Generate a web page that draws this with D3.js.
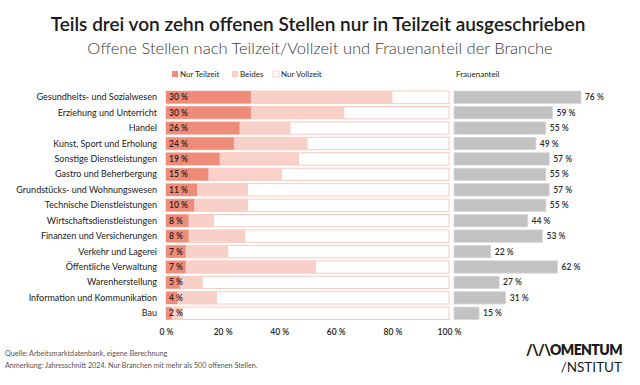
<!DOCTYPE html>
<html><head><meta charset="utf-8">
<script src="https://cdn.jsdelivr.net/npm/d3@7"></script>
<style>body{margin:0;background:#fff;} svg{display:block;font-family:Lato, "DejaVu Sans", sans-serif;}</style>
</head><body><svg id="c" width="640" height="385"></svg>
<script>
const categories = ["Gesundheits- und Sozialwesen","Erziehung und Unterricht","Handel","Kunst, Sport und Erholung","Sonstige Dienstleistungen","Gastro und Beherbergung","Grundstücks- und Wohnungswesen","Technische Dienstleistungen","Wirtschaftsdienstleistungen","Finanzen und Versicherungen","Verkehr und Lagerei","Öffentliche Verwaltung","Warenherstellung","Information und Kommunikation","Bau"];
const nurTeilzeit = [30,30,26,24,19,15,11,10,8,8,7,7,5,4,2];
const beides = [50,33,18,26,28,26,18,19,9,20,15,46,8,14,4];
const frauenanteil = [76,59,55,49,57,55,57,55,44,53,22,62,27,31,15];
const ticks = [0,20,40,60,80,100];
const seriesNames = ["Nur Teilzeit","Beides","Nur Vollzeit"];

const svg = d3.select("#c");
const cDark = "#ee8c79", cLight = "#f9d0c8", cBorder = "#f8c9c0", cGray = "#c2c2c2";

svg.append("text").attr("x",318).attr("y",31).attr("text-anchor","middle")
  .attr("font-size",19).attr("font-weight",600).attr("fill","#1a1a1a")
  .text("Teils drei von zehn offenen Stellen nur in Teilzeit ausgeschrieben");
svg.append("text").attr("x",320).attr("y",54).attr("text-anchor","middle")
  .attr("font-size",16.5).attr("font-weight",300).attr("fill","#3a3a3a")
  .text("Offene Stellen nach Teilzeit/Vollzeit und Frauenanteil der Branche");

const x = d3.scaleLinear().domain([0,100]).range([166,449]);
const y = d3.scaleBand().domain(categories).range([89.5,321]).paddingInner(0.2).paddingOuter(0.1);
const xr = d3.scaleLinear().domain([0,100]).range([454,621]);

// legend
const legX = [172,232,273];
const legFill = [cDark,cLight,"#fff"];
seriesNames.forEach((n,i)=>{
  svg.append("rect").attr("x",legX[i]).attr("y",71).attr("width",6).attr("height",6)
    .attr("fill",legFill[i]).attr("stroke",i==2?cBorder:"none").attr("stroke-width",0.8);
  svg.append("text").attr("x",legX[i]+8).attr("y",77).attr("font-size",8).attr("fill","#222").text(n);
});
svg.append("text").attr("x",456).attr("y",77).attr("font-size",8).attr("fill","#222").text("Frauenanteil");

const rows = svg.append("g").selectAll("g").data(categories).join("g")
  .attr("transform",d=>`translate(0,${y(d)})`);
const bh = y.bandwidth();
rows.append("rect").attr("x",x(0)).attr("width",x(100)-x(0)).attr("height",bh)
  .attr("fill","#fff").attr("stroke",cBorder).attr("stroke-width",1);
rows.append("rect").attr("x",(d,i)=>x(nurTeilzeit[i])).attr("width",(d,i)=>x(nurTeilzeit[i]+beides[i])-x(nurTeilzeit[i]))
  .attr("height",bh).attr("fill",cLight);
rows.append("rect").attr("x",x(0)).attr("width",(d,i)=>x(nurTeilzeit[i])-x(0))
  .attr("height",bh).attr("fill",cDark);
rows.append("text").attr("x",x(0)+3).attr("y",bh/2+3).attr("font-size",8.5).attr("font-weight",600)
  .attr("fill","#2a1a18").text((d,i)=>nurTeilzeit[i]+" %");
rows.append("text").attr("x",157).attr("y",bh/2+3).attr("text-anchor","end").attr("font-size",9)
  .attr("fill","#222").text(d=>d);
// right
rows.append("rect").attr("x",xr(0)).attr("width",(d,i)=>xr(frauenanteil[i])-xr(0)).attr("height",bh)
  .attr("fill",cGray).attr("stroke","#d6d6d6").attr("stroke-width",0.8);
rows.append("text").attr("x",(d,i)=>xr(frauenanteil[i])+4).attr("y",bh/2+3).attr("font-size",8.5)
  .attr("font-weight",600).attr("fill","#2a2a2a").text((d,i)=>frauenanteil[i]+" %");

// axis
const ax = svg.append("g").attr("transform","translate(0,326)")
  .call(d3.axisBottom(x).tickValues(ticks).tickSize(0).tickFormat(d=>d+" %"));
ax.select(".domain").remove();
ax.selectAll("text").attr("font-size",8.5).attr("font-weight",600).attr("fill","#222").attr("font-family","Lato, sans-serif");

// footer
svg.append("text").attr("x",5).attr("y",356).attr("font-size",7.2).attr("fill","#555")
  .text("Quelle: Arbeitsmarktdatenbank, eigene Berechnung");
svg.append("text").attr("x",5).attr("y",368).attr("font-size",7.2).attr("fill","#555")
  .text("Anmerkung: Jahresschnitt 2024. Nur Branchen mit mehr als 500 offenen Stellen.");
svg.append("text").attr("x",622).attr("y",355).attr("text-anchor","end").attr("font-size",14)
  .attr("font-weight",800).attr("fill","#1a1a1a").attr("letter-spacing",-0.6).text("/\\/\\OMENTUM");
svg.append("text").attr("x",622).attr("y",372).attr("text-anchor","end").attr("font-size",13.5)
  .attr("font-weight",400).attr("fill","#1a1a1a").text("/NSTITUT");
</script></body></html>
